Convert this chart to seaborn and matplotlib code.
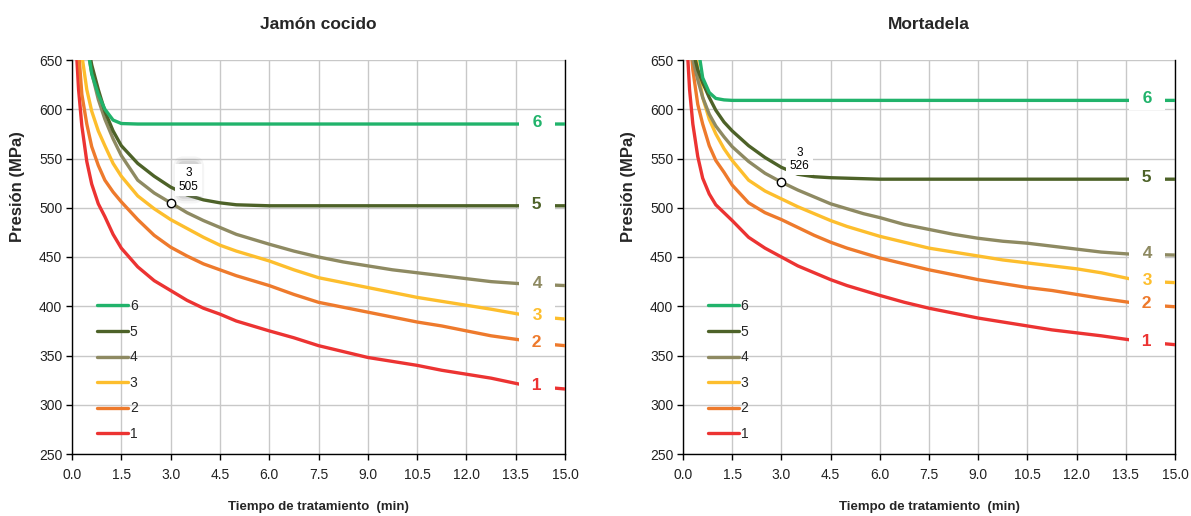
import numpy as np
import pandas as pd
import matplotlib
matplotlib.use("Agg")
import matplotlib.pyplot as plt
import seaborn as sns

# ---------------- data ----------------
tiempo = [0.1, 0.2, 0.3, 0.45, 0.6, 0.8, 1.0, 1.25, 1.5, 2.0, 2.5, 3.0, 3.5, 4.0, 4.5,
          5.0, 5.5, 6.0, 6.75, 7.5, 8.25, 9.0, 9.75, 10.5, 11.25, 12.0, 12.75, 13.6, 14.3, 15.0]

series_names = ["1", "2", "3", "4", "5", "6"]

jamon_1 = [680, 620, 583, 547, 524, 504, 491, 473, 459, 440, 426, 416, 406, 398, 392,
           385, 380, 375, 368, 360, 354, 348, 344, 340, 335, 331, 327, 321, 318, 316]
jamon_2 = [720, 660, 615, 585, 562, 543, 528, 516, 506, 488, 472, 460, 451, 443, 437,
           431, 426, 421, 412, 404, 399, 394, 389, 384, 380, 375, 370, 366, 362, 360]
jamon_3 = [760, 700, 655, 620, 598, 578, 563, 545, 532, 512, 499, 488, 479, 470, 462,
           456, 451, 446, 437, 429, 424, 419, 414, 409, 405, 401, 397, 392, 389, 387]
jamon_4 = [780, 730, 690, 665, 637, 610, 590, 570, 553, 528, 515, 505, 495, 487, 480,
           473, 468, 463, 456, 450, 445, 441, 437, 434, 431, 428, 425, 423, 422, 421]
jamon_5 = [790, 740, 700, 672, 645, 620, 598, 578, 563, 545, 532, 521, 513, 508, 505,
           503, 502.5, 502, 502, 502, 502, 502, 502, 502, 502, 502, 502, 502, 502, 502]
jamon_6 = [790, 740, 700, 668, 636, 615, 600, 589, 585.5, 585, 585, 585, 585, 585, 585,
           585, 585, 585, 585, 585, 585, 585, 585, 585, 585, 585, 585, 585, 585, 585]

mort_1 = [680, 620, 585, 552, 530, 514, 503, 495, 487, 470, 459, 450, 441, 434, 427,
          421, 416, 411, 404, 398, 393, 388, 384, 380, 376, 373, 370, 366, 363, 361]
mort_2 = [720, 680, 640, 605, 585, 563, 548, 536, 523, 505, 495, 488, 480, 472, 465,
          459, 454, 449, 443, 437, 432, 427, 423, 419, 416, 412, 408, 404, 401, 399.5]
mort_3 = [760, 720, 680, 640, 612, 590, 575, 560, 548, 528, 517, 509, 501, 494, 487,
          481, 476, 471, 465, 459, 455, 451, 447, 444, 441, 438, 434, 428, 425, 424]
mort_4 = [720, 680, 650, 630, 612, 595, 583, 572, 562, 547, 535, 526, 518, 511, 504,
          499, 494, 490, 483, 478, 473, 469, 466, 464, 461, 458, 455, 453, 452.5, 452]
mort_5 = [730, 690, 660, 640, 627, 612, 599, 587, 578, 563, 551, 541, 534, 531.5, 530.5,
          530, 529.5, 529, 529, 529, 529, 529, 529, 529, 529, 529, 529, 529, 529, 529]
mort_6 = [800, 750, 700, 665, 632, 617, 611, 609.5, 609, 609, 609, 609, 609, 609, 609,
          609, 609, 609, 609, 609, 609, 609, 609, 609, 609, 609, 609, 609, 609, 609]

titles = ["Jamón cocido", "Mortadela"]
x_ticks = [0.0, 1.5, 3.0, 4.5, 6.0, 7.5, 9.0, 10.5, 12.0, 13.5, 15.0]
y_ticks = [250, 300, 350, 400, 450, 500, 550, 600, 650]
x_label = "Tiempo de tratamiento  (min)"
y_label = "Presión (MPa)"

annot_t = [3.0, 3.0]
annot_v = [505, 526]

colors = {"1": "#EC3332", "2": "#EE7A2C", "3": "#FDBE2D", "4": "#8E8A62",
          "5": "#4D6228", "6": "#21B36B"}

# ---------------- plot ----------------
sns.set_theme(style="white")
plt.rcParams["font.family"] = ["Liberation Sans", "DejaVu Sans"]

fig = plt.figure(figsize=(11.91, 5.16), dpi=100)
ax_l = fig.add_axes([72 / 1191, 1 - 454 / 516, 493 / 1191, 394 / 516])
ax_r = fig.add_axes([683 / 1191, 1 - 454 / 516, 492 / 1191, 394 / 516])

datasets = [
    [jamon_1, jamon_2, jamon_3, jamon_4, jamon_5, jamon_6],
    [mort_1, mort_2, mort_3, mort_4, mort_5, mort_6],
]

for k, (ax, data) in enumerate(zip([ax_l, ax_r], datasets)):
    frames = []
    for name, vals in zip(series_names, data):
        frames.append(pd.DataFrame({"t": tiempo, "p": vals, "serie": name}))
    df = pd.concat(frames, ignore_index=True)
    sns.lineplot(data=df, x="t", y="p", hue="serie", palette=colors,
                 hue_order=series_names, linewidth=2.4, ax=ax, legend=False,
                 zorder=3, estimator=None, sort=True)

    ax.set_xlim(0, 15)
    ax.set_ylim(250, 650)
    ax.set_xticks(x_ticks)
    ax.set_xticklabels([f"{v:.1f}" for v in x_ticks], fontsize=10)
    ax.set_yticks(y_ticks)
    ax.set_yticklabels([str(v) for v in y_ticks], fontsize=10)
    ax.grid(True, color="#c8c8c8", linewidth=1.0, zorder=0)
    ax.set_axisbelow(True)
    for s in ["left", "bottom", "right"]:
        ax.spines[s].set_color("black")
        ax.spines[s].set_linewidth(1.0)
    ax.spines["top"].set_visible(False)
    ax.tick_params(axis="both", which="both", direction="out", length=4,
                   width=1, color="black", pad=6, labelcolor="#222222")
    ax.tick_params(axis="y", pad=3)
    ax.tick_params(right=False, top=False, left=True, bottom=True)
    ax.set_xlabel(x_label, fontsize=9.5, fontweight="bold")
    ax.xaxis.set_label_coords(0.5, -0.12)
    ax.set_ylabel(y_label, fontsize=12, fontweight="bold")
    ax.yaxis.set_label_coords(-0.095, 0.679)
    ax.set_title(titles[k], fontsize=12.5, fontweight="bold", pad=22)

    # end labels with white boxes
    for name, vals in zip(series_names, data):
        ax.text(14.15, vals[-2] + 1.5, f"  {name}  ", color=colors[name], fontsize=12.5,
                fontweight="bold", ha="center", va="center", zorder=5,
                bbox=dict(boxstyle="square,pad=0.2", fc="white", ec="none"))

    # legend (reversed order)
    handles = [plt.Line2D([], [], color=colors[n], linewidth=2.4) for n in series_names][::-1]
    ax.legend(handles, series_names[::-1], loc="lower left",
              bbox_to_anchor=(0.051, 0.033), frameon=False, fontsize=10,
              handlelength=2.2, handletextpad=0.15, labelspacing=0.83,
              borderpad=0, borderaxespad=0)

    # data point annotation
    ax.plot([annot_t[k]], [annot_v[k]], marker="o", markersize=6,
            markerfacecolor="white", markeredgecolor="black",
            markeredgewidth=1.0, zorder=7, linestyle="none")
    txt = f"{annot_t[k]:.0f}\n{annot_v[k]}"
    if k == 0:
        for pad, a in [(0.9, 0.08), (0.7, 0.12), (0.5, 0.18)]:
            ax.annotate(" \n   ", xy=(annot_t[k], annot_v[k]), xytext=(13, 16.5),
                        textcoords="offset points", fontsize=8.5, ha="center",
                        va="center", zorder=5, color="none",
                        bbox=dict(boxstyle=f"round,pad={pad}", fc="#808080",
                                  ec="none", alpha=a))
    ax.annotate(txt, xy=(annot_t[k], annot_v[k]), xytext=(13, 16.5),
                textcoords="offset points", fontsize=8.5, ha="center",
                va="center", zorder=6, color="black", linespacing=1.15,
                bbox=dict(boxstyle="square,pad=0.3", fc="white", ec="none"))

fig.savefig("out.png", dpi=100)
